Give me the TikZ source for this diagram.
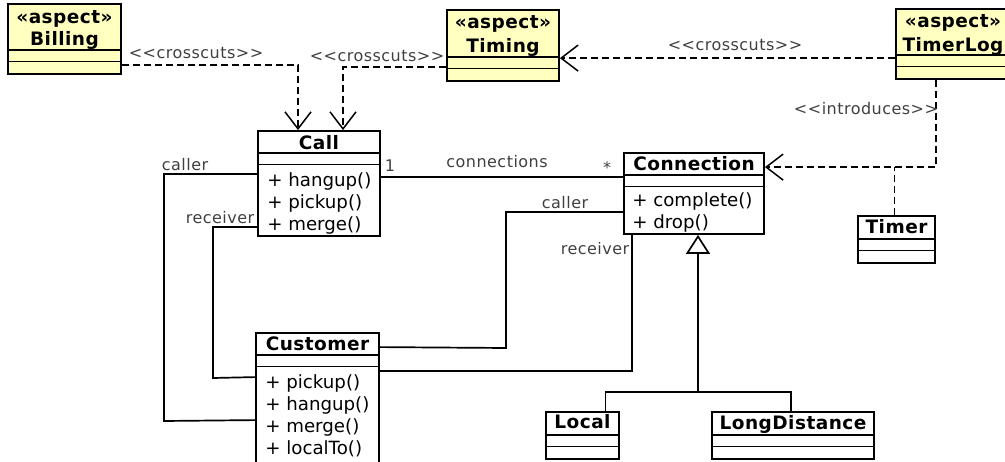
\documentclass[tikz,border=0pt]{standalone}
\usepackage{fontspec}
\setmainfont{DejaVu Sans}
\newfontfamily\titlefont{DejaVu Sans Bold}[LetterSpace=2.5]
\newfontfamily\lblfont{DejaVu Sans}[LetterSpace=3]
\usetikzlibrary{arrows.meta, positioning}
\definecolor{aspectfill}{RGB}{255,255,192}
\definecolor{labelgrey}{RGB}{64,64,64}
\tikzstyle{classbox} = [rectangle, draw=black, line width=1.8pt, inner sep=0pt, fill=white]
\tikzstyle{aspectbox} = [classbox, fill=aspectfill]
\tikzstyle{title} = [font=\titlefont\fontsize{18.5}{21}\selectfont, inner sep=0pt]
\tikzstyle{methods} = [font=\fontsize{18.2}{22}\selectfont, align=left, anchor=north west, inner sep=0pt]
\tikzstyle{lbl} = [font=\lblfont\fontsize{16}{18}\selectfont, text=labelgrey, inner sep=0pt]
\tikzstyle{assoc} = [line width=1.7pt]
\tikzstyle{dashline} = [line width=1.7pt, dash pattern=on 7pt off 4pt]
\tikzstyle{depend} = [dashline, -{Straight Barb[length=17pt, width=26pt, line width=1.5pt]}]
\tikzstyle{inherit} = [line width=1.7pt, -{Triangle[open, fill=white, length=19pt, width=24pt, line width=1.7pt]}]

\newcommand{\gl}{\textless\textless}
\newcommand{\gr}{\textgreater\textgreater}

\begin{document}
\begin{tikzpicture}[x=1pt, y=-1pt]
\useasboundingbox (0,0) rectangle (1005,462);
\clip (0,0) rectangle (1005,462);

% Aspects
\node (billing) [aspectbox, minimum width=113pt, minimum height=70pt] at (64.5,39) {};
\node (timing) [aspectbox, minimum width=112pt, minimum height=71pt] at (503,45.5) {};
\node (timerlog) [aspectbox, minimum width=114pt, minimum height=70pt] at (953,44) {};

% Classes
\node (call) [classbox, minimum width=122pt, minimum height=105pt] at (319,183.5) {};
\node (conn) [classbox, minimum width=140pt, minimum height=81pt] at (694,193.5) {};
\node (timer) [classbox, minimum width=77pt, minimum height=47pt] at (896.5,239.5) {};
\node (cust) [classbox, minimum width=123pt, minimum height=132pt] at (317.5,399) {};
\node (local) [classbox, minimum width=73pt, minimum height=47pt] at (582.5,435.5) {};
\node (longdist) [classbox, minimum width=162pt, minimum height=47pt] at (793,435.5) {};

% Compartment lines
\foreach \b/\d in {billing/47pt, timing/48pt, timerlog/47pt, call/23pt, conn/23pt,
                   timer/24pt, cust/23pt, local/24pt, longdist/24pt} {
  \draw[line width=1.8pt] ([yshift=-\d]\b.north west) -- ([yshift=-\d]\b.north east);
  \draw[line width=1.8pt] ([yshift=-\d-11.5pt]\b.north west) -- ([yshift=-\d-11.5pt]\b.north east);
}

% Names
\node (billing-st) [title] at ([yshift=-15.5pt]billing.north) {«aspect»};
\node (billing-name) [title] at ([yshift=-37pt]billing.north) {Billing};
\node (timing-st) [title] at ([yshift=-14.5pt]timing.north) {«aspect»};
\node (timing-name) [title] at ([yshift=-38pt]timing.north) {Timing};
\node (timerlog-st) [title] at ([yshift=-14.5pt]timerlog.north) {«aspect»};
\node (timerlog-name) [title] at ([yshift=-38pt]timerlog.north) {TimerLog};
\node (call-name) [title] at ([yshift=-13pt]call.north) {Call};
\node (conn-name) [title] at ([yshift=-12pt]conn.north) {Connection};
\node (timer-name) [title] at ([yshift=-12pt]timer.north) {Timer};
\node (cust-name) [title] at ([yshift=-12pt]cust.north) {Customer};
\node (local-name) [title] at ([yshift=-11pt]local.north) {Local};
\node (longdist-name) [title] at ([yshift=-13pt]longdist.north) {LongDistance};

% Operations
\node (call-ops) [methods] at ([xshift=10pt, yshift=-42pt]call.north west) {+ hangup()\\+ pickup()\\+ merge()};
\node (conn-ops) [methods] at ([xshift=9pt, yshift=-40pt]conn.north west) {+ complete()\\+ drop()};
\node (cust-ops) [methods] at ([xshift=10pt, yshift=-42pt]cust.north west) {+ pickup()\\+ hangup()\\+ merge()\\+ localTo()};

% Crosscutting
\draw [depend] ([yshift=-62pt]billing.north east) -| ([xshift=-21pt]call.north);
\draw [depend] ([yshift=-58pt]timing.north west) -| ([xshift=24pt]call.north);
\coordinate (tl-out) at ([yshift=-50pt]timerlog.north west);
\draw [depend] (tl-out) -- (tl-out -| timing.east);
\node (cc1) [lbl] at (196,53) {\gl crosscuts\gr};
\node (cc2) [lbl] at (377,56) {\gl crosscuts\gr};
\node (cc3) [lbl] at (735,45) {\gl crosscuts\gr};

% Introduction of Timer
\coordinate (intro-in) at ([yshift=-15pt]conn.north east);
\draw [depend] ([xshift=-17pt]timerlog.south) |- (intro-in);
\coordinate (timer-top) at ([xshift=-2pt]timer.north);
\draw [dashline] (timer-top) -- (timer-top |- intro-in);
\node (intro) [lbl] at (866,109) {\gl introduces\gr};

% Associations
\draw [assoc] ([yshift=-47pt]call.north east) -- ([yshift=-25pt]conn.north west);
\node (one) [lbl] at (390,166) {1};
\node (connections) [lbl] at (497,162) {connections};
\node (many) [lbl] at (607,168) {*};

\coordinate (conn-caller-bend) at (506,348);
\draw [assoc] ([yshift=-60pt]conn.north west) -| (conn-caller-bend) -- ([yshift=-15pt]cust.north east);
\node (conn-caller) [lbl] at (565,203) {caller};
\draw [assoc] ([xshift=9pt]conn.south west) |- ([yshift=-39pt]cust.north east);
\node (conn-receiver) [lbl] at (595,249) {receiver};

\coordinate (call-caller-bend) at (164,421);
\draw [assoc] ([yshift=-44pt]call.north west) -| (call-caller-bend) -- ([yshift=-88pt]cust.north west);
\node (call-caller) [lbl] at (185,165) {caller};
\coordinate (call-receiver-bend) at (213,378);
\draw [assoc] ([yshift=-97pt]call.north west) -| (call-receiver-bend) -- ([yshift=-45pt]cust.north west);
\node (call-receiver) [lbl] at (220,218) {receiver};

% Generalization
\coordinate (gen-split) at (698,392);
\draw [inherit] (gen-split) -- ([xshift=4pt]conn.south);
\draw [assoc] ([xshift=23pt]local.north) |- (gen-split) -| ([xshift=-2pt]longdist.north);

\end{tikzpicture}
\end{document}
